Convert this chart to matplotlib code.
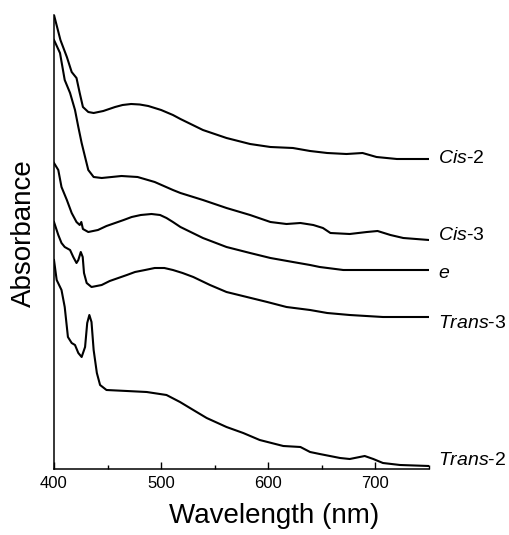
import matplotlib
matplotlib.use("Agg")
import matplotlib.pyplot as plt
from matplotlib.ticker import MultipleLocator

plt.rcParams['font.family'] = ['Liberation Sans', 'DejaVu Sans']
plt.rcParams['mathtext.fontset'] = 'custom'
plt.rcParams['mathtext.it'] = 'Liberation Sans:italic'
plt.rcParams['mathtext.rm'] = 'Liberation Sans'

# spectra (absorbance in arbitrary, offset units)
cis2_nm = [400, 406, 412, 416.5, 421, 424, 427, 432, 437, 446, 457, 464, 472, 480, 488, 500,
           511, 518, 539, 561, 583, 602, 623, 639, 655, 673, 688, 701, 720, 750]
cis2_abs = [4.54, 4.29, 4.12, 3.97, 3.91, 3.76, 3.62, 3.57, 3.56, 3.58, 3.62, 3.64, 3.65, 3.645,
            3.63, 3.59, 3.54, 3.50, 3.39, 3.31, 3.25, 3.22, 3.21, 3.18, 3.16, 3.15, 3.16, 3.12,
            3.10, 3.10]

cis3_nm = [400, 405.6, 410, 415, 419.6, 422.7, 425.8, 429, 432, 437, 444.5, 463, 478, 494,
           511, 518, 539, 561, 583, 602, 617, 630, 642, 651, 658, 676, 692, 702, 714, 726, 750]
cis3_abs = [4.29, 4.16, 3.89, 3.76, 3.59, 3.42, 3.26, 3.12, 2.99, 2.92, 2.91, 2.93, 2.92, 2.87,
            2.79, 2.76, 2.69, 2.61, 2.54, 2.47, 2.45, 2.46, 2.44, 2.41, 2.36, 2.35, 2.37, 2.38,
            2.34, 2.31, 2.29]

e_nm = [400, 404, 407, 412, 416.5, 421, 424, 425.5, 427, 432, 441, 449, 457, 465, 472.5, 481,
        491, 499, 505, 511, 518, 539, 561, 583, 602, 623, 639, 648, 670, 750]
e_abs = [3.06, 2.99, 2.82, 2.69, 2.56, 2.47, 2.44, 2.47, 2.40, 2.37, 2.39, 2.43, 2.46, 2.49,
         2.52, 2.54, 2.55, 2.54, 2.51, 2.47, 2.42, 2.31, 2.22, 2.16, 2.11, 2.07, 2.04, 2.02,
         1.99, 1.99]

trans3_nm = [400, 404, 407, 410, 415, 418, 421, 422.7, 425, 426.8, 428, 430.5, 435, 444.5, 452,
             460, 468, 475.6, 485, 494, 503, 511, 520, 530, 545.6, 561, 580, 599, 617, 639, 655,
             676, 707, 750]
trans3_abs = [2.47, 2.34, 2.26, 2.22, 2.19, 2.12, 2.06, 2.09, 2.17, 2.12, 1.96, 1.86, 1.82, 1.84,
              1.88, 1.91, 1.94, 1.97, 1.99, 2.01, 2.01, 1.99, 1.96, 1.92, 1.84, 1.77, 1.72, 1.67,
              1.62, 1.59, 1.56, 1.54, 1.52, 1.52]

trans2_nm = [400, 402.5, 407, 410, 413, 416.5, 419.6, 422.7, 425.8, 429, 431, 433, 435, 437, 440,
             443, 449, 468, 486.5, 505, 517.6, 530, 542.5, 561, 576.6, 592, 614, 630, 639, 648,
             667, 676, 690, 698, 707, 723, 750]
trans2_abs = [2.09, 1.89, 1.79, 1.62, 1.32, 1.26, 1.24, 1.16, 1.12, 1.22, 1.46, 1.54, 1.47, 1.19,
              0.96, 0.84, 0.79, 0.78, 0.77, 0.74, 0.67, 0.59, 0.51, 0.42, 0.36, 0.29, 0.23, 0.22,
              0.17, 0.15, 0.11, 0.10, 0.13, 0.10, 0.06, 0.04, 0.03]

names = [r'$\mathit{Cis}$-2', r'$\mathit{Cis}$-3', r'$\mathit{e}$',
         r'$\mathit{Trans}$-3', r'$\mathit{Trans}$-2']
label_y = [3.06, 2.29, 1.91, 1.41, 0.04]

fig = plt.figure(figsize=(5.1, 5.35), dpi=100)
ax = fig.add_axes([54 / 510, 66 / 535, 375 / 510, 454 / 535])

series = [(cis2_nm, cis2_abs), (cis3_nm, cis3_abs), (e_nm, e_abs),
          (trans3_nm, trans3_abs), (trans2_nm, trans2_abs)]
for (x, y), name, ly in zip(series, names, label_y):
    ax.plot(x, y, color='black', lw=1.5, solid_joinstyle='round')
    ax.text(758, ly, name, fontsize=14, va='baseline', ha='left', clip_on=False)

ax.set_xlim(400, 750)
ax.set_ylim(0, 4.54)
ax.xaxis.set_major_locator(MultipleLocator(100))
ax.xaxis.set_minor_locator(MultipleLocator(50))
ax.tick_params(axis='x', which='major', direction='in', length=5, width=1, labelsize=12, pad=5)
ax.tick_params(axis='x', which='minor', direction='in', length=3, width=1)
ax.set_yticks([])
for s in ['top', 'right']:
    ax.spines[s].set_visible(False)
for s in ['left', 'bottom']:
    ax.spines[s].set_linewidth(1.1)

ax.set_xlabel('Wavelength (nm)', fontsize=20)
ax.xaxis.set_label_coords(0.587, -0.075)
ax.set_ylabel('Absorbance', fontsize=20)
ax.yaxis.set_label_coords(-0.045, 0.52)

fig.savefig('out.png', dpi=100)
